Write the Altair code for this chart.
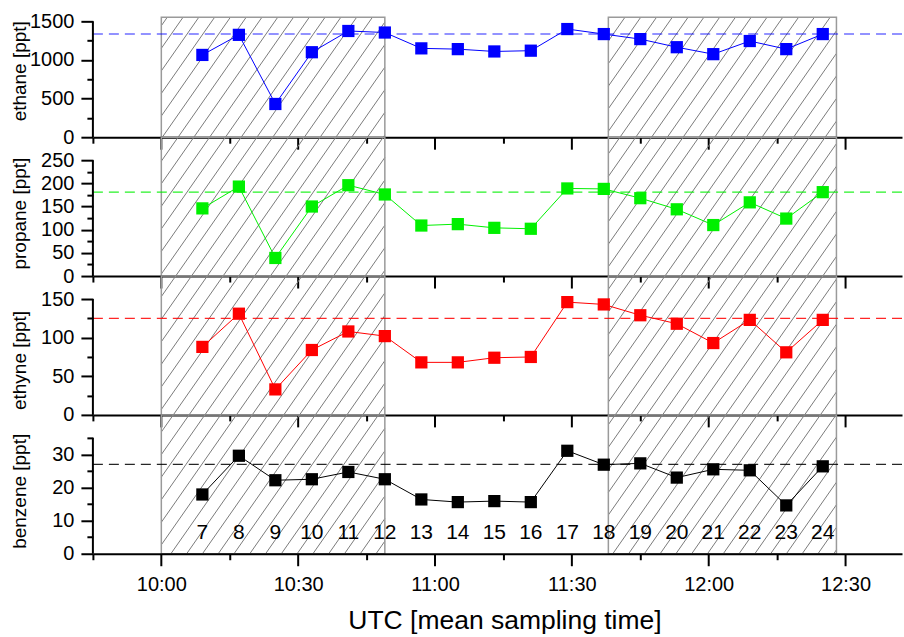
import altair as alt
import numpy as np
import pandas as pd

# ---------------- data ----------------
samples = list(range(7, 25))
times = ["10:09", "10:17", "10:25", "10:33", "10:41", "10:49", "10:57", "11:05", "11:13",
         "11:21", "11:29", "11:37", "11:45", "11:53", "12:01", "12:09", "12:17", "12:25"]
ethane = [1065, 1325, 430, 1100, 1375, 1355, 1150, 1140, 1110, 1120, 1400, 1335, 1270, 1165, 1075, 1245, 1140, 1335]
propane = [146, 193, 39, 150, 196, 176, 109, 112, 104, 102, 189, 188, 168, 144, 110, 159, 124, 181]
ethyne = [88, 131, 33, 84, 108, 102, 68, 68, 74, 75, 146, 143, 129, 118, 93, 123, 81, 123]
benzene = [17.9, 29.6, 22.2, 22.5, 24.7, 22.5, 16.4, 15.6, 15.9, 15.6, 31.1, 26.9, 27.3, 23.0, 25.5, 25.2, 14.6, 26.4]
reference = {"ethane": 1335, "propane": 181, "ethyne": 125, "benzene": 27}
hatch_start = ["10:00", "11:38"]
hatch_end = ["10:49", "12:28"]
x_title = "UTC [mean sampling time]"


def minutes(s):
    h, m = s.split(":")
    return int(h) * 60 + int(m)


t_min = [minutes(t) for t in times]

# ---------------- layout ----------------
W = 810
PXPM = 137 / 30.0          # pixels per minute
X0 = 585                   # 9:45
X1 = X0 + W / PXPM
AXIS_SPAN = 116            # pixels from 0 to top tick
SLOPE = 1.43
SPACING = 15.8
PHASE = 11.2

panels = [
    dict(key="ethane", title="ethane [ppt]", color="#0000ff", top=1500, step=250, major=500, H=120, ty=53.5, values=ethane),
    dict(key="propane", title="propane [ppt]", color="#00f000", top=250, step=25, major=50, H=139, ty=76, values=propane),
    dict(key="ethyne", title="ethyne [ppt]", color="#ff0000", top=150, step=25, major=50, H=139, ty=84, values=ethyne),
    dict(key="benzene", title="benzene [ppt]", color="#000000", top=35, step=5, major=10, H=139, ty=76, values=benzene),
]


def hatch_segments(T, H, dmax):
    rows = []
    for s, e in zip(hatch_start, hatch_end):
        xa = (minutes(s) - X0) * PXPM
        xb = (minutes(e) - X0) * PXPM
        cmin = xa + T / SLOPE
        cmax = xb + (T + H) / SLOPE
        k0 = int(np.floor((cmin - PHASE) / SPACING)) - 1
        k1 = int(np.ceil((cmax - PHASE) / SPACING)) + 1
        for k in range(k0, k1 + 1):
            c = PHASE + k * SPACING
            x_top = c - T / SLOPE
            x_bot = c - (T + H) / SLOPE
            x1 = max(xa, x_bot)
            x2 = min(xb, x_top)
            if x2 - x1 < 0.3:
                continue
            y1 = SLOPE * (c - x1) - T
            y2 = SLOPE * (c - x2) - T
            rows.append(dict(t1=X0 + x1 / PXPM, t2=X0 + x2 / PXPM,
                             v1=dmax * (1 - y1 / H), v2=dmax * (1 - y2 / H)))
    return pd.DataFrame(rows)


label_expr_x = ("datum.value % 30 === 0 ? floor(datum.value/60) + ':' + "
                "(datum.value % 60 < 10 ? '0' : '') + (datum.value % 60) : ''")
x_tick_values = list(range(585, 751, 15))


def make_panel(p, T, bottom):
    H = p["H"]
    dmax = p["top"] * H / AXIS_SPAN
    xscale = alt.Scale(domain=[X0, X1], nice=False, zero=False)
    yscale = alt.Scale(domain=[0, dmax], nice=False, zero=False)

    if bottom:
        xaxis = alt.Axis(values=x_tick_values, labelExpr=label_expr_x,
                         tickSize={"condition": {"test": "datum.value % 30 === 0", "value": 12}, "value": 6},
                         labelPadding=9, labelFontSize=20, grid=False, zindex=1,
                         title=x_title, titleFontSize=26.5, titleFontWeight="normal",
                         titleX=412, titleY=75, titleBaseline="alphabetic")
    else:
        xaxis = alt.Axis(values=x_tick_values, labels=False, title=None,
                         tickSize={"condition": {"test": "datum.value % 30 === 0", "value": 12}, "value": 6},
                         grid=False, zindex=1)

    yvals = [v for v in np.arange(0, p["top"] + 0.001, p["step"]).tolist()]
    major = p["major"]
    yaxis = alt.Axis(values=yvals, format="d",
                     labelExpr=f"datum.value % {major} === 0 ? datum.label : ''",
                     tickSize={"condition": {"test": f"datum.value % {major} === 0", "value": 12}, "value": 6},
                     labelPadding=7, labelFontSize=20, domain=False, grid=False, zindex=1,
                     title=p["title"], titleFontSize=19, titleFontWeight="normal",
                     titleAngle=270, titleX=-73, titleY=p["ty"], titleAlign="center",
                     titleBaseline="middle")

    def X(f):
        return alt.X(f, type="quantitative", scale=xscale, axis=xaxis, title=x_title if bottom else None)

    def Y(f):
        return alt.Y(f, type="quantitative", scale=yscale, axis=yaxis, title=p["title"])

    df = pd.DataFrame({"t": t_min, "v": p["values"], "sample": [str(s) for s in samples]})
    hdf = hatch_segments(T, H, dmax)
    rdf = pd.DataFrame({"s": [minutes(s) for s in hatch_start], "e": [minutes(e) for e in hatch_end],
                        "y0": [0, 0], "y1": [dmax, dmax]})
    refdf = pd.DataFrame({"ref": [reference[p["key"]]], "a": [X0], "b": [X1]})
    axdf = pd.DataFrame({"y0": [0], "y1": [p["top"]]})

    hatch = alt.Chart(hdf).mark_rule(color="#7a7a7a", strokeWidth=1).encode(
        x=X("t1"), x2=alt.X2("t2"), y=Y("v1"), y2=alt.Y2("v2"))
    rect = alt.Chart(rdf).mark_rect(filled=False, color="#9a9a9a", strokeWidth=1.5).encode(
        x=X("s"), x2=alt.X2("e"), y=Y("y0"), y2=alt.Y2("y1"))
    ref = alt.Chart(refdf).mark_rule(color=p["color"], strokeWidth=1.1, strokeDash=[10, 6], opacity=0.85).encode(
        x=X("a"), x2=alt.X2("b"), y=Y("ref"))
    line = alt.Chart(df).mark_line(color=p["color"], strokeWidth=1).encode(x=X("t"), y=Y("v"))
    pts = alt.Chart(df).mark_square(color=p["color"], size=150, opacity=1).encode(x=X("t"), y=Y("v"))
    yline = alt.Chart(axdf).mark_rule(color="black", strokeWidth=2).encode(
        x=alt.value(0), y=Y("y0"), y2=alt.Y2("y1"))

    layers = [hatch, rect, ref, line, pts, yline]
    if bottom:
        txt = alt.Chart(df).mark_text(fontSize=21, align="center", baseline="middle", color="black").encode(
            x=X("t"), y=alt.value(118), text="sample:N")
        layers.append(txt)
    return alt.layer(*layers).properties(width=W, height=H)


tops = [0, 120, 259, 398]
charts = [make_panel(p, T, i == 3) for i, (p, T) in enumerate(zip(panels, tops))]

chart = alt.vconcat(*charts, spacing=0, bounds="flush").properties(
    padding={"left": 10, "top": 10, "right": 0, "bottom": 0}
).configure(font="Liberation Sans").configure_view(stroke="transparent").configure_axis(
    labelColor="black", tickColor="black", tickWidth=2, domainColor="black", domainWidth=2,
    titleColor="black"
)

chart.save("out.html", embed_options={"renderer": "svg", "actions": False})
